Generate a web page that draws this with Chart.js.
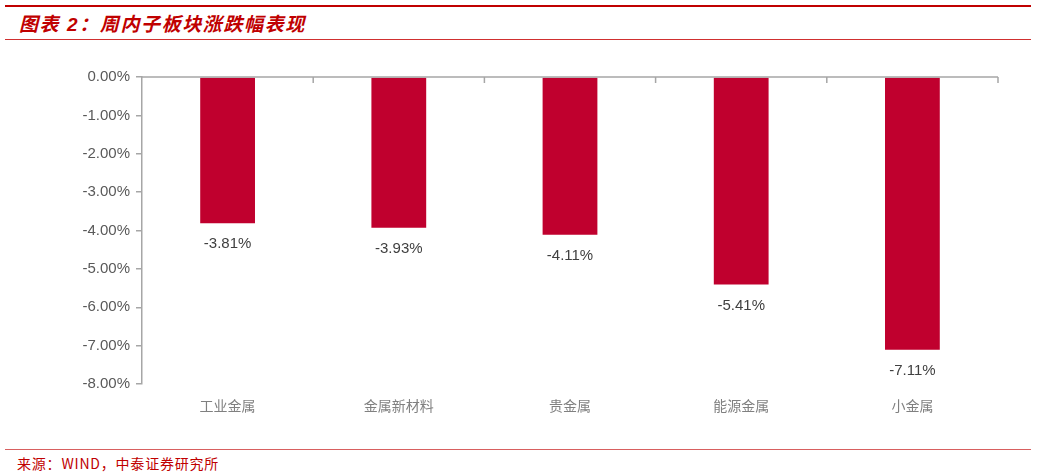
<!DOCTYPE html>
<html lang="zh">
<head>
    <meta charset="UTF-8">
    <title>周内子板块涨跌幅表现</title>
    <style>
        body {
            margin: 0;
            padding: 0;
            background: #ffffff;
            width: 1041px;
            height: 474px;
            overflow: hidden;
            position: relative;
            font-family: 'Liberation Sans', Arial, 'Noto Sans CJK SC', sans-serif;
        }

        .topline {
            position: absolute;
            left: 5px;
            right: 10px;
            top: 5px;
            height: 2px;
            background: #c00000;
        }

        .title {
            position: absolute;
            left: 19px;
            top: 9px;
            color: #c00000;
            font-size: 19px;
            font-weight: bold;
            font-style: italic;
            font-family: 'Liberation Sans', 'Noto Sans CJK SC', sans-serif;
            letter-spacing: 1.6px;
        }

        .titleline {
            position: absolute;
            left: 5px;
            right: 10px;
            top: 39px;
            height: 1px;
            background: #d03030;
        }

        .chart-box {
            position: absolute;
            left: 0;
            top: 50px;
            width: 1041px;
            height: 390px;
        }

        .footline {
            position: absolute;
            left: 5px;
            right: 10px;
            top: 449px;
            height: 1px;
            background: #d86060;
        }

        .source {
            position: absolute;
            left: 17px;
            top: 453px;
            color: #c00000;
            font-size: 14px;
            letter-spacing: 0.8px;
            font-family: 'Noto Sans CJK SC', sans-serif;
        }
    </style>
</head>
<body>
    <div class="topline"></div>
    <div class="title">图表 2：周内子板块涨跌幅表现</div>
    <div class="titleline"></div>

    <div class="chart-box">
        <canvas id="sectorChart"></canvas>
    </div>

    <div class="footline"></div>
    <div class="source">来源：WIND，中泰证券研究所</div>

    <script src="https://cdn.jsdelivr.net/npm/chart.js"></script>
    <script>
        const categories = ['工业金属', '金属新材料', '贵金属', '能源金属', '小金属'];
        const weeklyChange = [-3.81, -3.93, -4.11, -5.41, -7.11];
        const yTicks = [0, -1, -2, -3, -4, -5, -6, -7, -8];

        const axisGray = '#a6a6a6';

        // zero line on top with little tick marks between categories,
        // plus value labels under each bar
        const decorations = {
            id: 'decorations',
            afterDatasetsDraw(chart) {
                const ctx = chart.ctx;
                const y = chart.scales.y;
                const zeroY = y.getPixelForValue(0);
                const area = chart.chartArea;

                ctx.save();
                ctx.strokeStyle = axisGray;
                ctx.lineWidth = 1.5;
                ctx.beginPath();
                ctx.moveTo(area.left, zeroY);
                ctx.lineTo(area.right, zeroY);
                const step = (area.right - area.left) / categories.length;
                for (let i = 1; i <= categories.length; i++) {
                    const px = area.left + step * i;
                    ctx.moveTo(px, zeroY);
                    ctx.lineTo(px, zeroY + 6);
                }
                ctx.stroke();

                ctx.fillStyle = '#404040';
                ctx.font = '15px "Liberation Sans", Arial, sans-serif';
                ctx.textAlign = 'center';
                ctx.textBaseline = 'middle';
                const meta = chart.getDatasetMeta(0);
                meta.data.forEach((bar, i) => {
                    ctx.fillText(weeklyChange[i].toFixed(2) + '%', bar.x, bar.y + 21);
                });
                ctx.restore();
            }
        };

        new Chart(document.getElementById('sectorChart'), {
            type: 'bar',
            data: {
                labels: categories,
                datasets: [{
                    data: weeklyChange,
                    backgroundColor: '#c0002e',
                    borderWidth: 0,
                    categoryPercentage: 1,
                    barPercentage: 0.32
                }]
            },
            options: {
                responsive: true,
                maintainAspectRatio: false,
                animation: false,
                layout: {
                    padding: { top: 27, right: 43, left: 0, bottom: 0 }
                },
                plugins: {
                    legend: { display: false },
                    tooltip: { enabled: false }
                },
                scales: {
                    x: {
                        position: 'bottom',
                        grid: { display: false, drawTicks: false },
                        border: { display: false },
                        ticks: {
                            color: '#808080',
                            padding: 13,
                            font: { size: 14, family: '"Noto Sans CJK SC", sans-serif' }
                        },
                        afterFit(scale) { scale.height = 56; }
                    },
                    y: {
                        min: -8,
                        max: 0,
                        afterBuildTicks(scale) {
                            scale.ticks = yTicks.map(v => ({ value: v }));
                        },
                        grid: {
                            drawOnChartArea: false,
                            drawTicks: true,
                            tickLength: 6,
                            color: axisGray,
                            lineWidth: 1.5
                        },
                        border: { display: true, color: axisGray, width: 1.5 },
                        ticks: {
                            color: '#595959',
                            padding: 6,
                            font: { size: 15, family: '"Liberation Sans", Arial, sans-serif' },
                            callback: v => v.toFixed(2) + '%'
                        },
                        afterFit(scale) { scale.width = 142; }
                    }
                }
            },
            plugins: [decorations]
        });
    </script>
</body>
</html>
